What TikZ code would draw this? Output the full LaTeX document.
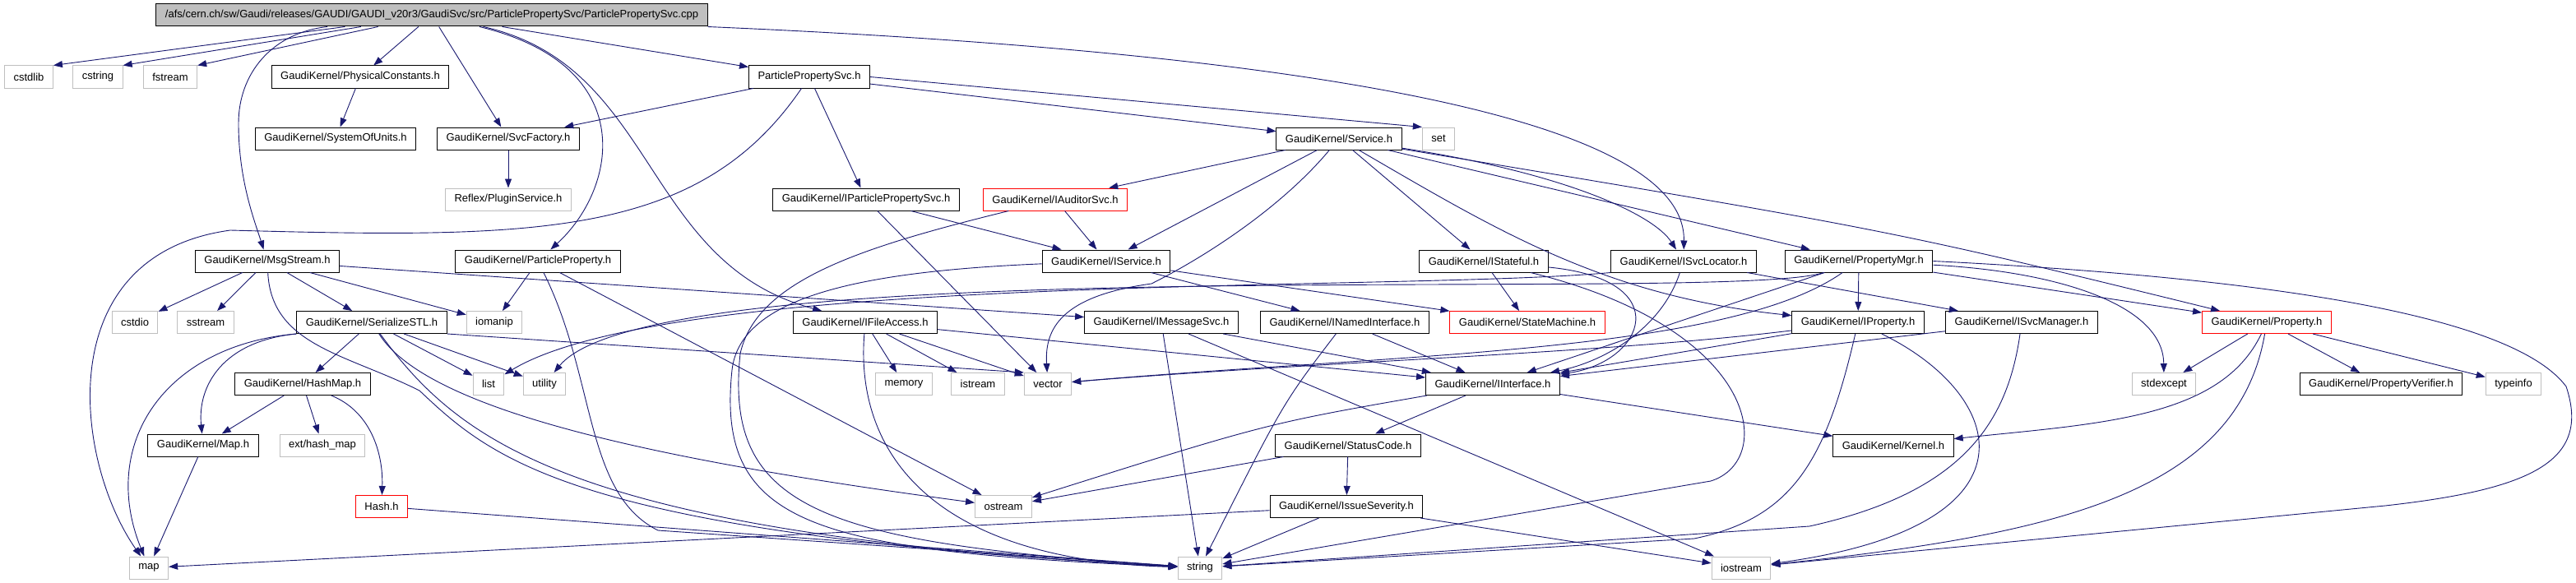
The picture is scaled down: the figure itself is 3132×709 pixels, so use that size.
\documentclass[tikz,border=0pt]{standalone}
\usepackage{fontspec}
\setmainfont{Liberation Sans}
\usetikzlibrary{arrows.meta}
\definecolor{Edge}{HTML}{191970}
\definecolor{Frame}{HTML}{BFBFBF}
\definecolor{Shade}{HTML}{BFBFBF}
\definecolor{Alert}{HTML}{FF0000}
\tikzset{
  filebox/.style={
    rectangle, draw=black, line width=1pt, fill=white,
    minimum height=27pt, inner xsep=11pt, inner ysep=0pt,
    font=\fontsize{13}{15}\selectfont
  },
  srcfile/.style={filebox, fill=Shade},
  docfile/.style={filebox},
  sysfile/.style={filebox, draw=Frame},
  redfile/.style={filebox, draw=Alert},
  incl/.style={-{Triangle[length=11pt,width=8pt]}, draw=Edge, line width=0.9pt}
}

\begin{document}
\begin{tikzpicture}[x=1pt,y=-1pt]
    \path[use as bounding box, fill=white] (0,0) rectangle (3132,709);
    \node[srcfile] (main) at (525,18.5) {/afs/cern.ch/sw/Gaudi/releases/GAUDI/GAUDI\_v20r3/GaudiSvc/src/ParticlePropertySvc/ParticlePropertySvc.cpp};
    \node[sysfile] (cstdlib) at (35,93.5) {cstdlib};
    \node[sysfile] (cstring) at (119,93.5) {cstring};
    \node[sysfile] (fstream) at (207,93.5) {fstream};
    \node[docfile] (physconst) at (438,93.5) {GaudiKernel/PhysicalConstants.h};
    \node[docfile] (ppsvch) at (984,93.5) {ParticlePropertySvc.h};
    \node[docfile] (sysunits) at (408,168.5) {GaudiKernel/SystemOfUnits.h};
    \node[docfile] (svcfactory) at (618,168.5) {GaudiKernel/SvcFactory.h};
    \node[docfile] (service) at (1628,168.5) {GaudiKernel/Service.h};
    \node[sysfile] (set) at (1749,168.5) {set};
    \node[sysfile] (pluginsvc) at (618,242.5) {Reflex/PluginService.h};
    \node[docfile] (ippsvc) at (1053,242.5) {GaudiKernel/IParticlePropertySvc.h};
    \node[redfile] (iauditor) at (1283,242.5) {GaudiKernel/IAuditorSvc.h};
    \node[docfile] (msgstream) at (325,317.5) {GaudiKernel/MsgStream.h};
    \node[docfile] (partprop) at (654,317.5) {GaudiKernel/ParticleProperty.h};
    \node[docfile] (iservice) at (1345,317.5) {GaudiKernel/IService.h};
    \node[docfile] (istateful) at (1804,317.5) {GaudiKernel/IStateful.h};
    \node[docfile] (isvcloc) at (2047,317.5) {GaudiKernel/ISvcLocator.h};
    \node[docfile] (propmgr) at (2260,317.5) {GaudiKernel/PropertyMgr.h};
    \node[sysfile] (cstdio) at (164,392) {cstdio};
    \node[sysfile] (sstream) at (250,392) {sstream};
    \node[docfile] (serialize) at (452,392) {GaudiKernel/SerializeSTL.h};
    \node[sysfile] (iomanip) at (601,392) {iomanip};
    \node[docfile] (ifileacc) at (1052,392) {GaudiKernel/IFileAccess.h};
    \node[docfile] (imsgsvc) at (1412,392) {GaudiKernel/IMessageSvc.h};
    \node[docfile] (inamed) at (1635,392) {GaudiKernel/INamedInterface.h};
    \node[redfile] (statemach) at (1857,392) {GaudiKernel/StateMachine.h};
    \node[docfile] (iproperty) at (2259,392) {GaudiKernel/IProperty.h};
    \node[docfile] (isvcmgr) at (2458,392) {GaudiKernel/ISvcManager.h};
    \node[redfile] (property) at (2756,392) {GaudiKernel/Property.h};
    \node[docfile] (hashmap) at (368,467) {GaudiKernel/HashMap.h};
    \node[sysfile] (list) at (594,467) {list};
    \node[sysfile] (utility) at (662,467) {utility};
    \node[sysfile] (memory) at (1099,467) {memory};
    \node[sysfile] (istream) at (1189,467) {istream};
    \node[sysfile] (vector) at (1274,467) {vector};
    \node[docfile] (iinterface) at (1815,467) {GaudiKernel/IInterface.h};
    \node[sysfile] (stdexcept) at (2631,467) {stdexcept};
    \node[docfile] (propverif) at (2895,467) {GaudiKernel/PropertyVerifier.h};
    \node[sysfile] (typeinfo) at (3056,467) {typeinfo};
    \node[docfile] (mapk) at (247,541.5) {GaudiKernel/Map.h};
    \node[sysfile] (exthash) at (392,541.5) {ext/hash\_map};
    \node[docfile] (statuscode) at (1639,541.5) {GaudiKernel/StatusCode.h};
    \node[docfile] (kernel) at (2302,541.5) {GaudiKernel/Kernel.h};
    \node[redfile] (hashh) at (464,616) {Hash.h};
    \node[sysfile] (ostream) at (1220,616) {ostream};
    \node[docfile] (issuesev) at (1637,616) {GaudiKernel/IssueSeverity.h};
    \node[sysfile] (map) at (181,690.5) {map};
    \node[sysfile] (string) at (1459,690.5) {string};
    \node[sysfile] (iostream) at (2117,690.5) {iostream};

    \draw[incl] (main) -- (cstdlib.north east);
    \draw[incl] (main) -- (cstring.north east);
    \draw[incl] (main) -- (fstream.north east);
    \draw[incl] (main) -- (physconst);
    \draw[incl] (main) .. controls (330,40) and (290,90) .. (290,150) .. controls (290,220) and (310,270) .. (msgstream);
    \draw[incl] (main) -- (svcfactory);
    \draw[incl] (main) .. controls (780,80) and (750,230) .. (partprop);
    \draw[incl] (main) -- (ppsvch);
    \draw[incl] (main) .. controls (800,80) and (780,320) .. (ifileacc);
    \draw[incl] (main.south east) .. controls (1500,60) and (2050,130) .. (isvcloc);
    \draw[incl] (physconst) -- (sysunits);
    \draw[incl] (svcfactory) -- (pluginsvc);
    \draw[incl] (ppsvch) -- (svcfactory);
    \draw[incl] (ppsvch) .. controls (850,290) and (650,290) .. (280,280) .. controls (60,310) and (90,560) .. (map);
    \draw[incl] (ppsvch) -- (ippsvc);
    \draw[incl] (ppsvch) -- (service);
    \draw[incl] (ppsvch.east) -- (set.north west);
    \draw[incl] (service) -- (iauditor);
    \draw[incl] (service) -- (iservice);
    \draw[incl] (service) .. controls (1560,250) and (1470,310) .. (1400,345) .. controls (1290,360) and (1270,400) .. (vector);
    \draw[incl] (service) -- (istateful);
    \draw[incl] (service) .. controls (1900,210) and (2010,260) .. (isvcloc);
    \draw[incl] (service) -- (propmgr);
    \draw[incl] (service) .. controls (2300,280) .. (property);
    \draw[incl] (service) .. controls (1820,280) and (1950,360) .. (iproperty);
    \draw[incl] (iauditor) -- (iservice);
    \draw[incl] (iauditor) .. controls (1050,300) and (920,340) .. (900,430) .. controls (880,620) and (1000,660) .. (string);
    \draw[incl] (ippsvc) -- (iservice);
    \draw[incl] (ippsvc) -- (vector);
    \draw[incl] (iservice) -- (inamed);
    \draw[incl] (iservice) -- (statemach);
    \draw[incl] (iservice) .. controls (1050,330) and (900,360) .. (890,450) .. controls (870,640) and (990,670) .. (string);
    \draw[incl] (msgstream) -- (cstdio);
    \draw[incl] (msgstream) -- (sstream);
    \draw[incl] (msgstream) -- (serialize);
    \draw[incl] (msgstream) -- (iomanip);
    \draw[incl] (msgstream) -- (imsgsvc);
    \draw[incl] (msgstream) .. controls (330,420) and (420,430) .. (510,475) .. controls (600,560) and (700,650) .. (string);
    \draw[incl] (partprop) -- (iomanip);
    \draw[incl] (partprop) .. controls (725,460) and (710,600) .. (800,645) -- (string);
    \draw[incl] (partprop) -- (ostream);
    \draw[incl] (serialize) -- (hashmap);
    \draw[incl] (serialize.south west) .. controls (270,415) and (240,470) .. (mapk);
    \draw[incl] (serialize.south west) .. controls (200,420) and (120,540) .. (map);
    \draw[incl] (serialize) -- (list);
    \draw[incl] (serialize) -- (utility);
    \draw[incl] (serialize.south east) -- (vector.north west);
    \draw[incl] (serialize) .. controls (520,500) and (800,560) .. (ostream);
    \draw[incl] (serialize) .. controls (560,540) and (700,650) .. (string);
    \draw[incl] (hashmap) -- (mapk);
    \draw[incl] (hashmap) -- (exthash);
    \draw[incl] (hashmap) .. controls (450,500) and (466,550) .. (hashh);
    \draw[incl] (mapk) -- (map);
    \draw[incl] (hashh) -- (string);
    \draw[incl] (ifileacc) -- (memory);
    \draw[incl] (ifileacc) -- (istream);
    \draw[incl] (ifileacc) -- (vector);
    \draw[incl] (ifileacc) -- (iinterface);
    \draw[incl] (ifileacc) .. controls (1040,540) and (1120,680) .. (string);
    \draw[incl] (imsgsvc) -- (iinterface);
    \draw[incl] (imsgsvc) -- (string);
    \draw[incl] (imsgsvc) -- (iostream);
    \draw[incl] (inamed) -- (iinterface);
    \draw[incl] (inamed) .. controls (1560,490) .. (string);
    \draw[incl] (istateful) -- (statemach);
    \draw[incl] (istateful) .. controls (2040,340) and (2000,440) .. (iinterface);
    \draw[incl] (istateful) .. controls (2140,400) and (2160,560) .. (2080,585) -- (string);
    \draw[incl] (isvcloc) .. controls (2020,400) and (1950,440) .. (iinterface);
    \draw[incl] (isvcloc) -- (isvcmgr);
    \draw[incl] (isvcloc.south west) .. controls (1700,355) and (820,330) .. (list);
    \draw[incl] (propmgr) -- (iproperty);
    \draw[incl] (propmgr) -- (property);
    \draw[incl] (propmgr) -- (iinterface);
    \draw[incl] (propmgr) .. controls (2100,430) and (1700,430) .. (vector);
    \draw[incl] (propmgr) .. controls (2100,370) and (800,300) .. (utility);
    \draw[incl] (propmgr) .. controls (2500,330) and (2630,370) .. (stdexcept);
    \draw[incl] (propmgr.east) .. controls (2800,340) and (3060,390) .. (3120,470) .. controls (3150,560) and (3080,595) .. (2900,615) -- (iostream);
    \draw[incl] (iproperty) -- (iinterface);
    \draw[incl] (iproperty) .. controls (1950,430) and (1600,440) .. (vector);
    \draw[incl] (iproperty) .. controls (2220,560) and (2180,630) .. (2060,655) -- (string);
    \draw[incl] (iproperty) .. controls (2440,480) and (2490,640) .. (iostream);
    \draw[incl] (isvcmgr) -- (iinterface);
    \draw[incl] (isvcmgr) .. controls (2440,520) and (2380,600) .. (2200,640) -- (string);
    \draw[incl] (property) -- (stdexcept);
    \draw[incl] (property) -- (propverif);
    \draw[incl] (property) -- (typeinfo);
    \draw[incl] (property) .. controls (2700,510) and (2550,515) .. (kernel);
    \draw[incl] (property) .. controls (2720,600) and (2500,650) .. (iostream);
    \draw[incl] (iinterface) -- (statuscode);
    \draw[incl] (iinterface) -- (kernel);
    \draw[incl] (iinterface) .. controls (1540,515) .. (ostream);
    \draw[incl] (statuscode) -- (issuesev);
    \draw[incl] (statuscode) -- (ostream);
    \draw[incl] (issuesev) -- (map);
    \draw[incl] (issuesev) -- (string);
    \draw[incl] (issuesev) -- (iostream);
\end{tikzpicture}
\end{document}
